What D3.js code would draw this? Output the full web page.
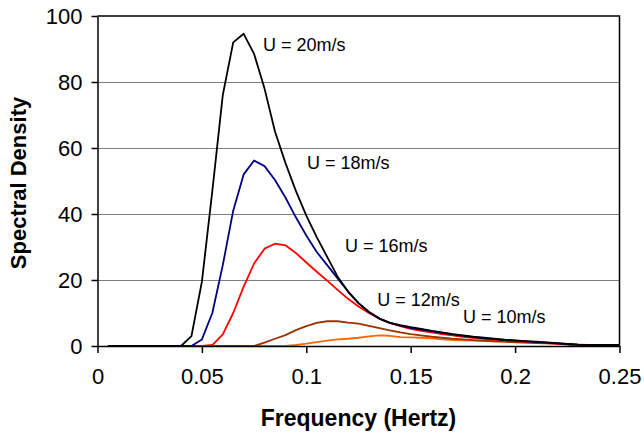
<!DOCTYPE html>
<html>
<head>
<meta charset="utf-8">
<script src="https://cdn.jsdelivr.net/npm/d3@7"></script>
<style>
  body { margin: 0; background: #fff; }
  svg { display: block; font-family: "Liberation Sans", Arial, sans-serif; }
</style>
</head>
<body>
<div id="chart-container"></div>
<script>
// frequency (Hz) and spectral density per wind speed
const freq = [0.005, 0.01, 0.015, 0.02, 0.025, 0.03, 0.035, 0.04, 0.045, 0.05,
  0.055, 0.06, 0.065, 0.07, 0.075, 0.08, 0.085, 0.09, 0.095, 0.1,
  0.105, 0.11, 0.115, 0.12, 0.125, 0.13, 0.135, 0.14, 0.145, 0.15,
  0.155, 0.16, 0.165, 0.17, 0.175, 0.18, 0.185, 0.19, 0.195, 0.2,
  0.205, 0.21, 0.215, 0.22, 0.225, 0.23, 0.235, 0.24, 0.245, 0.25];

const u20 = [0, 0, 0, 0, 0, 0, 0, 0, 3, 19.5,
  47, 76, 92, 94.6, 88.5, 78, 65, 55.5, 47, 39.5,
  33, 27, 21, 16.5, 13, 10.3, 8.3, 7, 6.3, 5.7,
  5.2, 4.6, 4.1, 3.6, 3.2, 2.8, 2.5, 2.2, 1.9, 1.7,
  1.5, 1.3, 1.1, 0.9, 0.6, 0.4, 0.3, 0.3, 0.3, 0.3];

const u18 = [0, 0, 0, 0, 0, 0, 0, 0, 0, 2,
  10, 24.5, 41, 52, 56.2, 54.5, 50.3, 45, 39, 33.5,
  28.5, 24.5, 20.5, 16.5, 13, 10.3, 8.3, 7, 6.2, 5.5,
  5, 4.5, 4, 3.5, 3.1, 2.7, 2.4, 2.1, 1.8, 1.6,
  1.4, 1.2, 1, 0.8, 0.6, 0.4, 0.3, 0.3, 0.3, 0.3];

const u16 = [0, 0, 0, 0, 0, 0, 0, 0, 0, 0,
  0.3, 3.5, 10, 18, 25, 29.5, 31, 30.5, 28.2, 25.3,
  22.5, 19.8, 17, 14.3, 12, 10, 8.3, 7, 6, 5.2,
  4.6, 4.1, 3.6, 3.2, 2.8, 2.5, 2.2, 1.9, 1.7, 1.5,
  1.3, 1.1, 0.9, 0.7, 0.5, 0.3, 0.3, 0.3, 0.3, 0.3];

const u12 = [0, 0, 0, 0, 0, 0, 0, 0, 0, 0,
  0, 0, 0, 0, 0, 1, 2.2, 3.3, 4.8, 6,
  7, 7.5, 7.5, 7.1, 6.8, 6.1, 5.4, 4.7, 4.1, 3.6,
  3.2, 2.8, 2.5, 2.2, 2, 1.8, 1.6, 1.4, 1.3, 1.1,
  1, 0.9, 0.8, 0.7, 0.5, 0.4, 0.3, 0.3, 0.3, 0.3];

const u10 = [0, 0, 0, 0, 0, 0, 0, 0, 0, 0,
  0, 0, 0, 0, 0, 0, 0, 0, 0.3, 0.7,
  1.2, 1.6, 2, 2.2, 2.5, 2.9, 3.2, 3.1, 2.7, 2.6,
  2.5, 2.3, 2, 1.8, 1.7, 1.6, 1.5, 1.4, 1.3, 1.2,
  1.1, 1, 0.9, 0.7, 0.4, 0.2, 0.2, 0.2, 0.2, 0.2];

const xTicks = [0, 0.05, 0.1, 0.15, 0.2, 0.25];
const yTicks = [0, 20, 40, 60, 80, 100];

// label text and where it sits, in data units
const labels = ["U = 10m/s", "U = 12m/s", "U = 16m/s", "U = 18m/s", "U = 20m/s"];
const labelFreq = [0.175, 0.134, 0.1185, 0.1003, 0.0793];
const labelDensity = [7, 12.2, 28.5, 53.5, 89.3];

{ // start block scope
  const color = {
    u20: '#000000',
    u18: '#000080',
    u16: '#ff0000',
    u12: '#993300',
    u10: '#ff6600',
    grid: '#808080'
  };

  const totalWidth = 644;
  const totalHeight = 436;
  const margin = { top: 16, left: 97.5, bottom: 90, right: 24.5 };
  const width = totalWidth - margin.left - margin.right;
  const height = totalHeight - margin.top - margin.bottom;

  const svg = d3.select('#chart-container')
    .append('svg')
    .attr('width', totalWidth)
    .attr('height', totalHeight);

  const g = svg.append('g')
    .attr('transform', `translate(${margin.left}, ${margin.top})`);

  const xScale = d3.scaleLinear().domain([0, 0.25]).range([0, width]);
  const yScale = d3.scaleLinear().domain([0, 100]).range([height, 0]);

  // gridlines
  g.append('g')
    .selectAll('line')
    .data(yTicks.filter(d => d > 0 && d < 100))
    .enter()
    .append('line')
    .attr('x1', 0)
    .attr('x2', width)
    .attr('y1', d => Math.round(yScale(d)) + 0.5)
    .attr('y2', d => Math.round(yScale(d)) + 0.5)
    .attr('stroke', color.grid)
    .attr('stroke-width', 1);

  // top and right border of plot area
  g.append('path')
    .attr('d', `M0,${yScale(100)}H${xScale(0.25)}V${yScale(0)}`)
    .attr('fill', 'none')
    .attr('stroke', '#000')
    .attr('stroke-width', 1.5);

  // series
  const series = [
    { values: u10, color: color.u10 },
    { values: u12, color: color.u12 },
    { values: u16, color: color.u16 },
    { values: u18, color: color.u18 },
    { values: u20, color: color.u20 }
  ];
  const line = d3.line()
    .x((d, i) => xScale(freq[i]))
    .y(d => yScale(d));

  g.selectAll('.series')
    .data(series)
    .enter()
    .append('path')
    .attr('class', 'series')
    .attr('d', d => line(d.values))
    .attr('fill', 'none')
    .attr('stroke', d => d.color)
    .attr('stroke-width', 1.8)
    .attr('stroke-linejoin', 'round');

  // x axis
  const xAxis = d3.axisBottom(xScale)
    .tickValues(xTicks)
    .tickFormat(d => d === 0 ? '0' : String(d))
    .tickSize(7)
    .tickPadding(15)
    .tickSizeOuter(0);
  const xAxisGroup = g.append('g')
    .attr('transform', `translate(0, ${height})`)
    .call(xAxis);
  xAxisGroup.select('.domain').attr('stroke', '#000').attr('stroke-width', 1.5);
  xAxisGroup.selectAll('.tick line').attr('stroke', '#000').attr('stroke-width', 1.5);
  xAxisGroup.selectAll('.tick text')
    .attr('font-size', 22)
    .attr('fill', '#000')
    .attr('font-family', '"Liberation Sans", Arial, sans-serif');

  // y axis
  const yAxis = d3.axisLeft(yScale)
    .tickValues(yTicks)
    .tickSize(6)
    .tickPadding(9)
    .tickSizeOuter(0);
  const yAxisGroup = g.append('g').call(yAxis);
  yAxisGroup.select('.domain').attr('stroke', '#000').attr('stroke-width', 1.5);
  yAxisGroup.selectAll('.tick line').attr('stroke', '#000').attr('stroke-width', 1.5);
  yAxisGroup.selectAll('.tick text')
    .attr('font-size', 22)
    .attr('fill', '#000')
    .attr('font-family', '"Liberation Sans", Arial, sans-serif');

  // axis titles
  svg.append('text')
    .attr('x', margin.left + width / 2)
    .attr('y', 426)
    .attr('text-anchor', 'middle')
    .attr('font-size', 23)
    .attr('font-weight', 'bold')
    .text('Frequency (Hertz)');

  svg.append('text')
    .attr('transform', `translate(26, ${margin.top + height / 2 + 2}) rotate(-90)`)
    .attr('text-anchor', 'middle')
    .attr('font-size', 22)
    .attr('font-weight', 'bold')
    .text('Spectral Density');

  // curve labels
  g.selectAll('.label')
    .data(labels)
    .enter()
    .append('text')
    .attr('class', 'label')
    .attr('x', (d, i) => xScale(labelFreq[i]))
    .attr('y', (d, i) => yScale(labelDensity[i]))
    .attr('font-size', 18)
    .attr('fill', '#000')
    .text(d => d);
} // end block scope
</script>
</body>
</html>
